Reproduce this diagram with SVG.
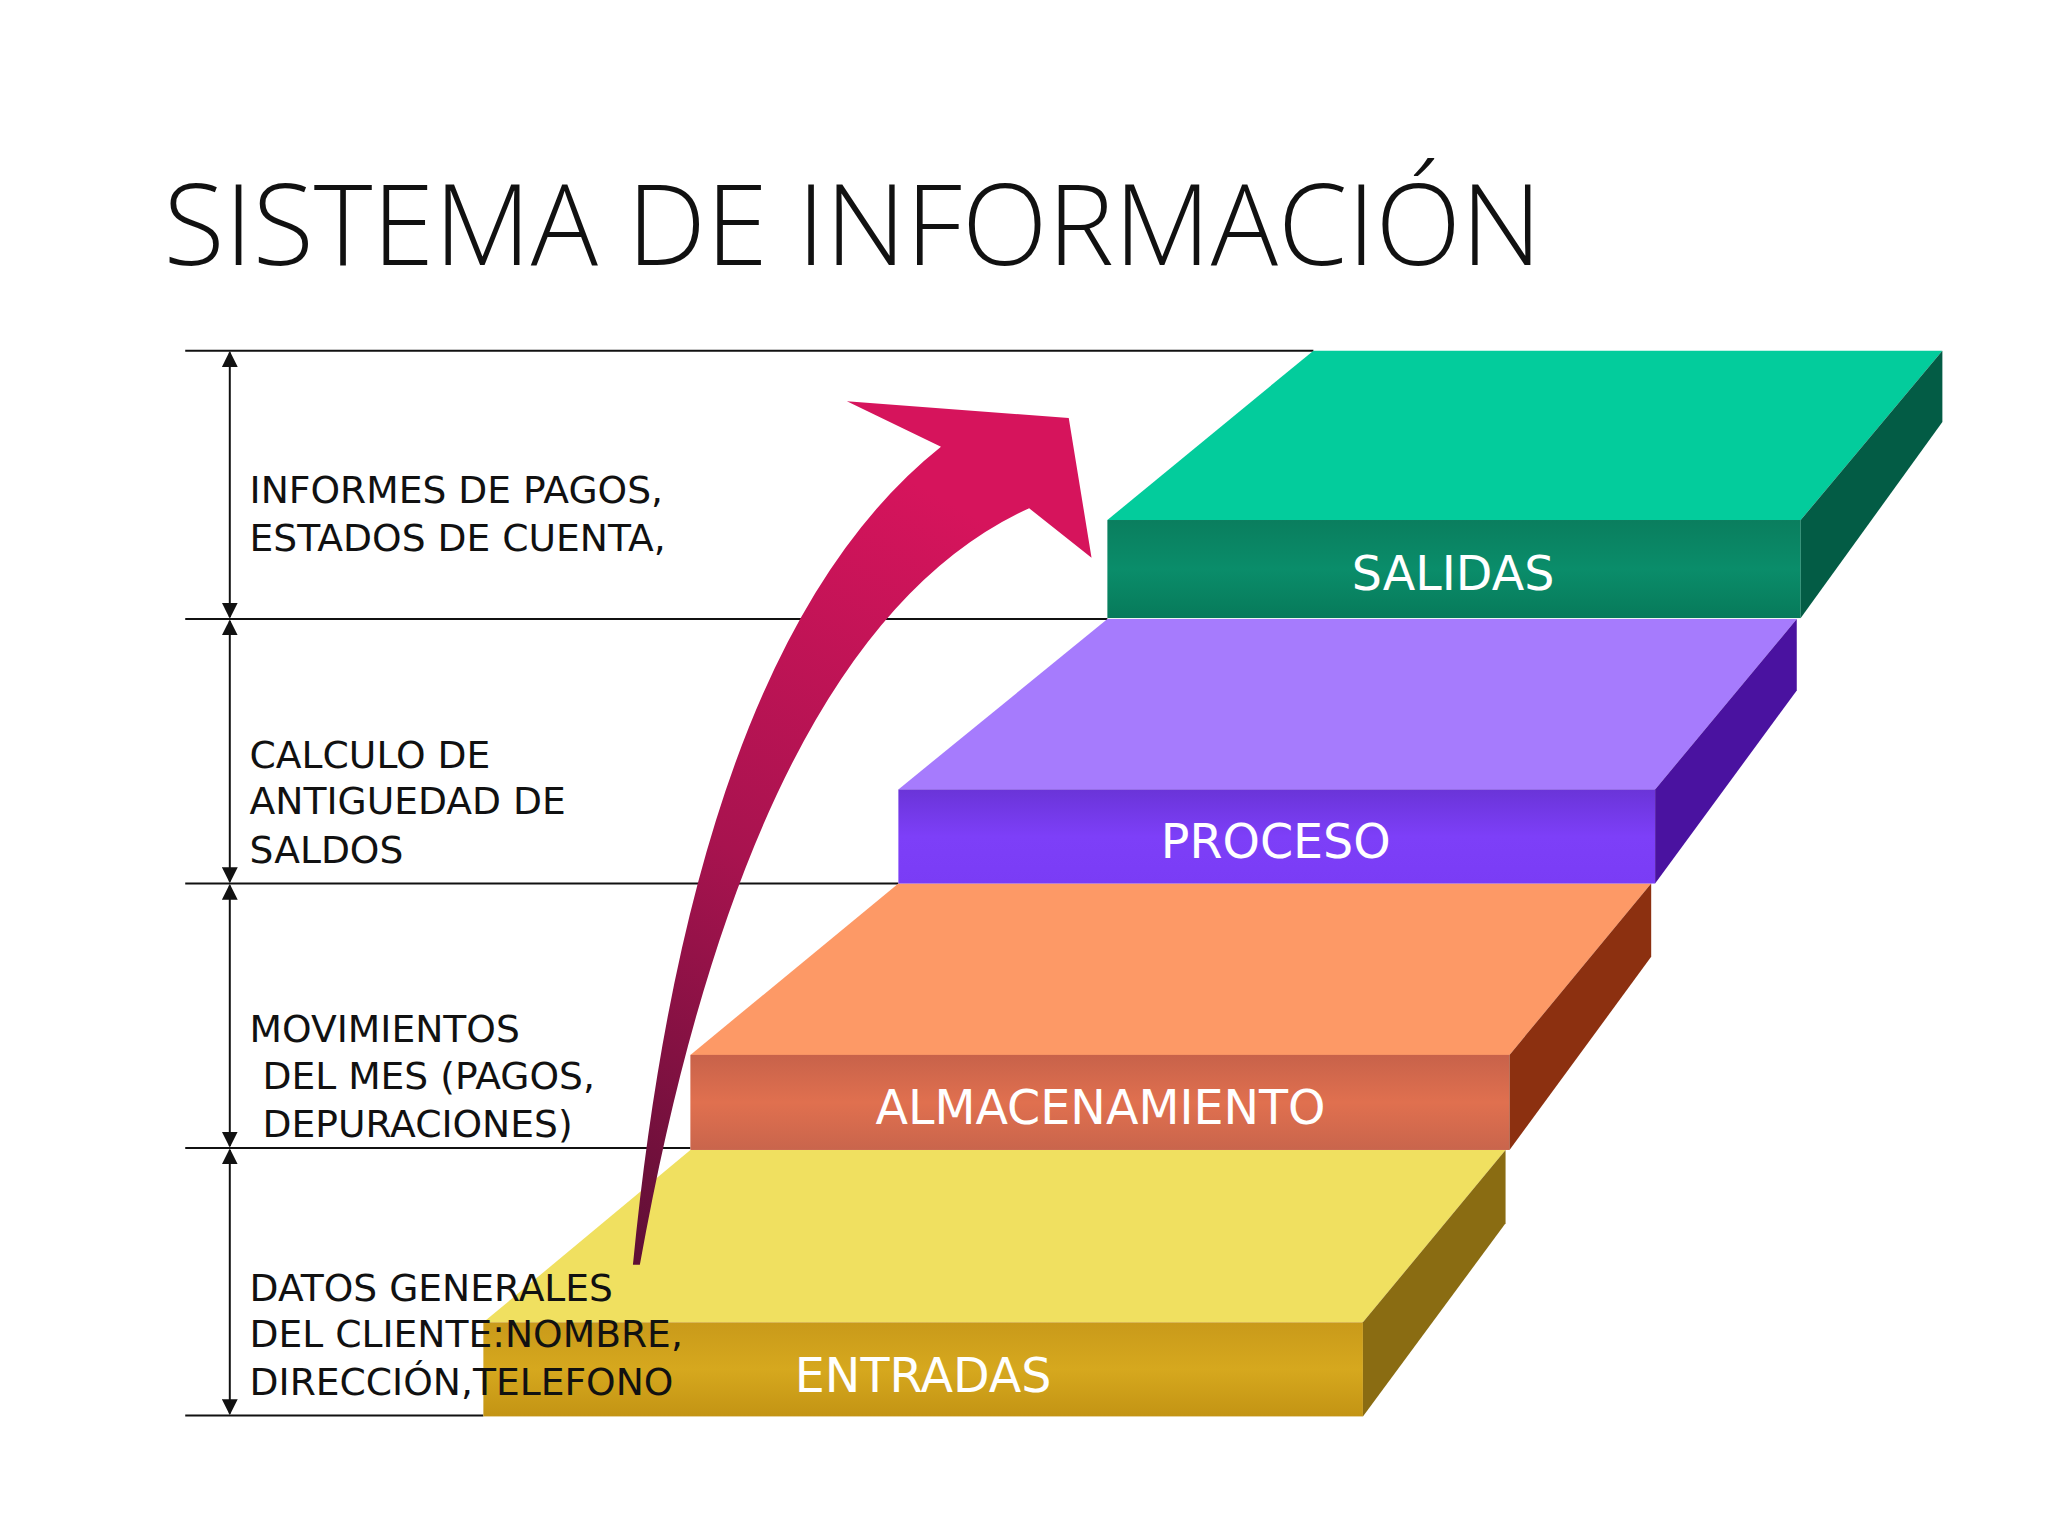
<svg xmlns="http://www.w3.org/2000/svg" width="2048" height="1536" viewBox="0 0 2048 1536">
<defs>
<style>
.t{font-family:"DejaVu Sans","Liberation Sans",sans-serif;font-size:38px;fill:#111}
.l{font-family:"DejaVu Sans","Liberation Sans",sans-serif;font-size:48px;fill:#fff;text-anchor:middle}
.g{stroke:#111;stroke-width:2}
</style>
<marker id="a" viewBox="0 0 10 10" refX="9" refY="5" markerWidth="8" markerHeight="8" orient="auto-start-reverse"><path d="M0,0L10,5L0,10z" fill="#111"/></marker>
<linearGradient id="arr" x1="0" y1="1" x2="0.3" y2="0"><stop offset="0" stop-color="#5e0f35"/><stop offset="0.5" stop-color="#a8134f"/><stop offset="1" stop-color="#d6145c"/></linearGradient>
<linearGradient id="fy" x1="0" y1="0" x2="0" y2="1"><stop offset="0" stop-color="#c99a1a"/><stop offset="0.5" stop-color="#d6a81e"/><stop offset="1" stop-color="#c39414"/></linearGradient>
<linearGradient id="fo" x1="0" y1="0" x2="0" y2="1"><stop offset="0" stop-color="#c8624a"/><stop offset="0.5" stop-color="#e0704f"/><stop offset="1" stop-color="#c9654c"/></linearGradient>
<linearGradient id="fp" x1="0" y1="0" x2="0" y2="1"><stop offset="0" stop-color="#6a34d8"/><stop offset="0.5" stop-color="#7d3ff8"/><stop offset="1" stop-color="#7a3cf5"/></linearGradient>
<linearGradient id="fg" x1="0" y1="0" x2="0" y2="1"><stop offset="0" stop-color="#0a7e5e"/><stop offset="0.5" stop-color="#0a8d6a"/><stop offset="1" stop-color="#077a5a"/></linearGradient>
</defs>
<rect width="2048" height="1536" fill="#fff"/>
<g transform="scale(0.9905)">
<text x="165" y="268" style="font-family:'Open Sans','Liberation Sans',sans-serif;font-weight:300;font-size:113px;fill:#111">SISTEMA DE INFORMACIÓN</text>
<g id="guides">
<line class="g" x1="187" y1="354" x2="1326" y2="354"/>
<line class="g" x1="187" y1="625" x2="1118" y2="625"/>
<line class="g" x1="187" y1="892" x2="907" y2="892"/>
<line class="g" x1="187" y1="1159" x2="697" y2="1159"/>
<line class="g" x1="187" y1="1429" x2="488" y2="1429"/>
<line class="g" x1="232" y1="356" x2="232" y2="623" marker-start="url(#a)" marker-end="url(#a)"/>
<line class="g" x1="232" y1="627" x2="232" y2="890" marker-start="url(#a)" marker-end="url(#a)"/>
<line class="g" x1="232" y1="894" x2="232" y2="1157" marker-start="url(#a)" marker-end="url(#a)"/>
<line class="g" x1="232" y1="1161" x2="232" y2="1427" marker-start="url(#a)" marker-end="url(#a)"/>
</g>
<g id="entradas">
<polygon points="697,1161 1520,1161 1376,1335 488,1335" fill="#f0e060"/>
<rect x="488" y="1335" width="888" height="95" fill="url(#fy)"/>
<polygon points="1376,1335 1520,1161 1520,1235 1376,1430" fill="#8a6c12"/>
<text class="l" x="932" y="1405">ENTRADAS</text>
</g>
<g id="almacenamiento">
<polygon points="907,892 1667,892 1524,1065 697,1065" fill="#fd9966"/>
<rect x="697" y="1065" width="827" height="96" fill="url(#fo)"/>
<polygon points="1524,1065 1667,892 1667,966 1524,1161" fill="#8c3010"/>
<text class="l" x="1111" y="1135">ALMACENAMIENTO</text>
</g>
<g id="proceso">
<polygon points="1118,625 1814,625 1671,797 907,797" fill="#a67bfd"/>
<rect x="907" y="797" width="764" height="95" fill="url(#fp)"/>
<polygon points="1671,797 1814,625 1814,697 1671,892" fill="#4a12a0"/>
<text class="l" x="1288" y="866">PROCESO</text>
</g>
<g id="salidas">
<polygon points="1326,354 1961,354 1818,525 1118,525" fill="#03cc9c"/>
<rect x="1118" y="525" width="700" height="99" fill="url(#fg)"/>
<polygon points="1818,525 1961,354 1961,426 1818,624" fill="#035c45"/>
<text class="l" x="1467" y="596">SALIDAS</text>
</g>
<g id="connectors">
<path d="M639,1277 Q700,650 950,451 L855,405 L1079,422 L1102,563 L1039,513 Q760,640 646,1277 Z" fill="url(#arr)"/>
</g>
<g id="labels">
<text class="t" x="252" y="508">INFORMES DE PAGOS,</text>
<text class="t" x="252" y="556">ESTADOS DE CUENTA,</text>
<text class="t" x="252" y="775">CALCULO DE</text>
<text class="t" x="252" y="822">ANTIGUEDAD DE</text>
<text class="t" x="252" y="871">SALDOS</text>
<text class="t" x="252" y="1052">MOVIMIENTOS</text>
<text class="t" x="265" y="1099">DEL MES (PAGOS,</text>
<text class="t" x="265" y="1148">DEPURACIONES)</text>
<text class="t" x="252" y="1313">DATOS GENERALES</text>
<text class="t" x="252" y="1360">DEL CLIENTE:NOMBRE,</text>
<text class="t" x="252" y="1408">DIRECCIÓN,TELEFONO</text>
</g>
</g>
</svg>
